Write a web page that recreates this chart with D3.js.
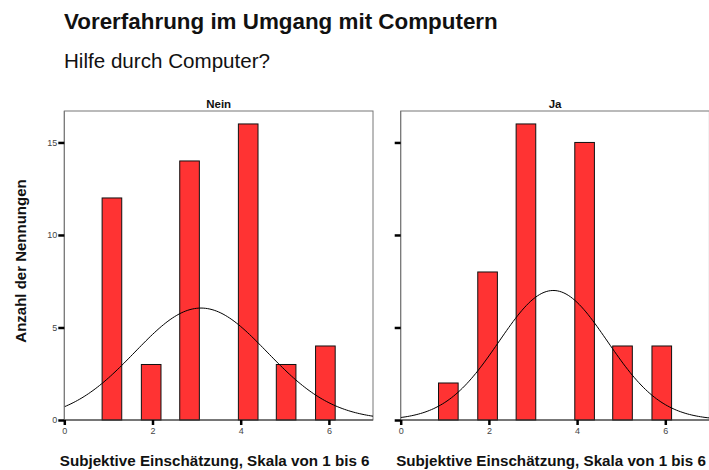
<!DOCTYPE html>
<html>
<head>
<meta charset="utf-8">
<script src="https://cdn.jsdelivr.net/npm/d3@7"></script>
<style>
  body { margin: 0; background: #fff; }
  text { font-family: "Liberation Sans", Arial, sans-serif; }
</style>
</head>
<body>
<div id="chart"></div>
<script>
// Data
const panels = ["Nein", "Ja"];
const binCenters = [1.08, 1.97, 2.84, 4.17, 5.03, 5.92];
const countsNein = [12, 3, 14, 16, 3, 4];
const countsJa = [2, 8, 16, 15, 4, 4];
// fitted normal curve: mean, sd, peak height
const normalNein = { mean: 3.1, sd: 1.5, peak: 6.05 };
const normalJa = { mean: 3.46, sd: 1.23, peak: 7.0 };
const xTicks = [0, 2, 4, 6];
const yTicks = [0, 5, 10, 15];

const width = 709, height = 470;

const svg = d3.select("#chart")
  .append("svg")
  .attr("width", width)
  .attr("height", height);

// Title and subtitle
svg.append("text")
  .attr("x", 64)
  .attr("y", 29)
  .style("font-size", "22.4px")
  .style("font-weight", "bold")
  .attr("fill", "#111")
  .text("Vorerfahrung im Umgang mit Computern");

svg.append("text")
  .attr("x", 64)
  .attr("y", 68)
  .style("font-size", "20.6px")
  .attr("fill", "#111")
  .text("Hilfe durch Computer?");

const plotTop = 111, plotBottom = 420;
const y = d3.scaleLinear().domain([0, 16.7]).range([plotBottom, plotTop]);

const panelLeft = [64.3, 400.7];
const unit = 44.1;
const barWidth = 0.445;

const counts = [countsNein, countsJa];
const normals = [normalNein, normalJa];

panels.forEach((name, p) => {
  const x = d3.scaleLinear().domain([0, 7]).range([panelLeft[p], panelLeft[p] + 7 * unit]);
  const g = svg.append("g");

  // frame
  g.append("rect")
    .attr("x", x(0))
    .attr("y", plotTop)
    .attr("width", x(7) - x(0))
    .attr("height", plotBottom - plotTop)
    .attr("fill", "none")
    .attr("stroke", "#777")
    .attr("stroke-width", 1);

  // bars
  g.selectAll(".bar")
    .data(binCenters.map((c, i) => ({ c: c, v: counts[p][i] })))
    .enter().append("rect")
    .attr("class", "bar")
    .attr("x", d => x(d.c - barWidth / 2))
    .attr("y", d => y(d.v))
    .attr("width", d => x(d.c + barWidth / 2) - x(d.c - barWidth / 2))
    .attr("height", d => y(0) - y(d.v))
    .attr("fill", "#ff3333")
    .attr("stroke", "#111")
    .attr("stroke-width", 1);

  // normal curve
  const nm = normals[p];
  const curve = d3.range(0, 7.001, 0.05).map(t => ({
    t: t,
    v: nm.peak * Math.exp(-0.5 * Math.pow((t - nm.mean) / nm.sd, 2))
  }));
  g.append("path")
    .datum(curve)
    .attr("fill", "none")
    .attr("stroke", "#000")
    .attr("stroke-width", 1)
    .attr("d", d3.line().x(d => x(d.t)).y(d => y(d.v)));

  // axes lines
  g.append("line")
    .attr("x1", x(0)).attr("x2", x(7))
    .attr("y1", plotBottom).attr("y2", plotBottom)
    .attr("stroke", "#333");
  g.append("line")
    .attr("x1", x(0)).attr("x2", x(0))
    .attr("y1", plotTop).attr("y2", plotBottom)
    .attr("stroke", "#777");

  // x ticks
  const xAxis = g.append("g")
    .attr("transform", "translate(0," + plotBottom + ")")
    .call(d3.axisBottom(x).tickValues(xTicks).tickSize(5).tickPadding(3).tickFormat(d3.format("d")));
  xAxis.select(".domain").remove();
  xAxis.selectAll("line").attr("stroke", "#000").attr("stroke-width", 2.5);
  xAxis.selectAll("text")
    .style("font-size", "9px")
    .style("font-family", "Liberation Sans, Arial, sans-serif")
    .attr("fill", "#444");

  // y ticks
  const yAxis = g.append("g")
    .attr("transform", "translate(" + x(0) + ",0)")
    .call(d3.axisLeft(y).tickValues(yTicks).tickSize(6).tickPadding(1).tickFormat(p === 0 ? d3.format("d") : () => ""));
  yAxis.select(".domain").remove();
  yAxis.selectAll("line").attr("stroke", "#000").attr("stroke-width", 2.5);
  yAxis.selectAll("text")
    .style("font-size", "9px")
    .style("font-family", "Liberation Sans, Arial, sans-serif")
    .attr("fill", "#444");

  // panel title
  g.append("text")
    .attr("x", (x(0) + x(7)) / 2)
    .attr("y", 108)
    .attr("text-anchor", "middle")
    .style("font-size", "11.5px")
    .style("font-weight", "bold")
    .attr("fill", "#111")
    .text(name);

  // x label
  g.append("text")
    .attr("x", (x(0) + x(7)) / 2 - 4)
    .attr("y", 466)
    .attr("text-anchor", "middle")
    .style("font-size", "15.2px")
    .style("font-weight", "bold")
    .attr("fill", "#111")
    .text("Subjektive Einschätzung, Skala von 1 bis 6");
});

// y label
svg.append("text")
  .attr("transform", "translate(26,261) rotate(-90)")
  .attr("text-anchor", "middle")
  .style("font-size", "15px")
  .style("font-weight", "bold")
  .attr("fill", "#111")
  .text("Anzahl der Nennungen");
</script>
</body>
</html>
